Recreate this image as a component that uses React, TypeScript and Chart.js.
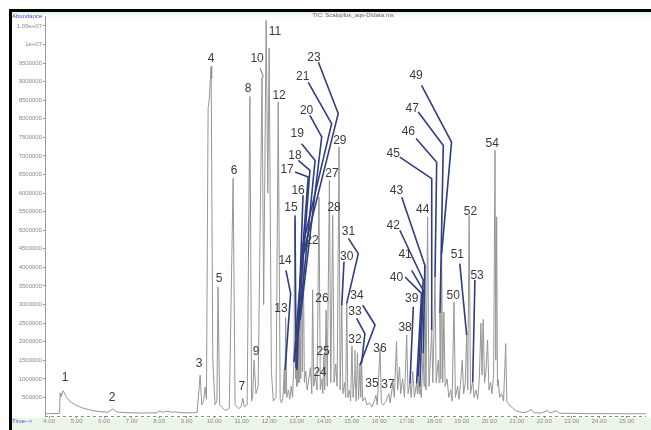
import React, { useEffect, useRef } from 'react';
import { Chart, registerables } from 'chart.js';

Chart.register(...registerables);

// ---- Data (retention time in minutes, abundance in counts) ----
const chartTitle = 'TIC: Scaloplus_aqs-D\\data.ms';
const yAxisTitle = 'Abundance';
const xAxisTitle = 'Time-->';

const yTickValues = [
  500000, 1000000, 1500000, 2000000, 2500000, 3000000, 3500000, 4000000, 4500000, 5000000, 5500000,
  6000000, 6500000, 7000000, 7500000, 8000000, 8500000, 9000000, 9500000, 10000000, 10500000,
];
const xTickValues = [4, 5, 6, 7, 8, 9, 10, 11, 12, 13, 14, 15, 16, 17, 18, 19, 20, 21, 22, 23, 24, 25];

const earlyTrace: [number, number][] = [
  [3.85, 6e4], [4.38, 7e4], [4.40, 6.2e5], [4.43, 5.2e5], [4.51, 6.8e5], [4.62, 5.2e5], [4.75, 4.0e5],
  [4.95, 3.0e5], [5.2, 2.2e5], [5.5, 1.6e5], [5.8, 1.2e5], [6.15, 1.0e5], [6.31, 1.9e5], [6.45, 1.1e5],
  [6.8, 9e4], [7.4, 8e4], [7.9, 8.5e4], [8.03, 1.4e5], [8.12, 1.0e5], [8.22, 1.15e5], [8.33, 1.3e5],
  [8.45, 1.0e5], [8.6, 1.1e5], [8.75, 9e4], [9.2, 8.5e4], [9.38, 1.0e5], [9.49, 1.1e6], [9.55, 3.0e5],
  [9.62, 4.2e5], [9.67, 7.8e5], [9.72, 4.5e5], [9.78, 8.3e6], [9.82, 8.5e6], [9.89, 9.4e6], [9.95, 1.5e6],
  [10.03, 3.0e5], [10.10, 4.0e5], [10.14, 3.47e6], [10.2, 3.0e5], [10.4, 1.5e5], [10.55, 2.0e5],
  [10.69, 6.4e6], [10.76, 3.0e5], [10.9, 2.0e5], [10.98, 2.5e5], [11.04, 4.8e5], [11.1, 2.5e5],
  [11.2, 3.0e5], [11.30, 8.6e6], [11.36, 4.0e5], [11.40, 5.0e5], [11.45, 1.5e6], [11.52, 6.0e5],
  [11.6, 8.0e5], [11.74, 9.12e6], [11.8, 3.0e6], [11.89, 1.065e7], [11.95, 6.0e6], [12.0, 9.9e6],
  [12.08, 1.2e6], [12.15, 4.0e5], [12.25, 5.0e5], [12.33, 8.45e6], [12.4, 4.5e5],
];

const middleCluster: [number, number][] = [
  [12.45, 3.5e5], [12.50, 5.0e5], [12.55, 1.25e6], [12.57, 6.0e5], [12.60, 2.65e6], [12.64, 5.0e5],
  [12.70, 7.0e5], [12.75, 4.5e5], [12.80, 8.0e5], [12.85, 5.0e5], [12.90, 1.45e6], [12.93, 5.2e6],
  [12.96, 1.0e6], [12.98, 1.75e6], [13.01, 8.0e5], [13.05, 2.2e6], [13.08, 9.0e5], [13.12, 2.6e6],
  [13.15, 1.0e6], [13.18, 4.45e6], [13.21, 1.2e6], [13.24, 4.4e6], [13.28, 9.0e5], [13.33, 1.2e6],
  [13.38, 7.0e5], [13.50, 1.3e6], [13.55, 6.0e5], [13.58, 3.4e6], [13.62, 8.0e5], [13.68, 1.1e6],
  [13.74, 7.0e5], [13.81, 5.9e6], [13.86, 7.0e5], [13.92, 1.0e6], [13.95, 6.0e5], [13.99, 1.65e6],
  [14.02, 7.0e5], [14.07, 2.85e6], [14.11, 8.0e5], [14.19, 6.34e6], [14.24, 9.0e5], [14.31, 5.4e6],
  [14.36, 9.0e5], [14.42, 1.4e6], [14.47, 8.0e5], [14.54, 7.24e6], [14.58, 7.0e5], [14.64, 3.0e6],
  [14.68, 6.0e5], [14.74, 9.0e5], [14.78, 5.0e5], [14.82, 3.05e6], [14.86, 5.0e5], [14.92, 7.0e5],
  [14.96, 4.0e5], [15.01, 1.88e6], [15.05, 5.0e5], [15.12, 1.2e6], [15.16, 4.0e5], [15.21, 1.7e6],
  [15.25, 4.5e5], [15.30, 1.4e6], [15.33, 5.0e5], [15.36, 1.45e6], [15.40, 4.0e5], [15.48, 5.0e5],
  [15.55, 3.0e5], [15.65, 3.5e5], [15.74, 2.5e5], [15.82, 4.0e5], [15.88, 5.6e5], [15.93, 3.0e5],
  [16.03, 1.8e6], [16.08, 3.5e5], [16.15, 3.0e5], [16.25, 4.0e5], [16.35, 6.0e5], [16.40, 3.5e5],
];

const lateCluster: [number, number][] = [
  [16.50, 9.0e5], [16.55, 5.0e5], [16.63, 2.0e6], [16.67, 7.0e5], [16.74, 1.32e6], [16.78, 6.0e5],
  [16.85, 1.0e6], [16.92, 5.0e5], [17.00, 2.18e6], [17.05, 6.0e5], [17.12, 9.0e5], [17.16, 5.0e5],
  [17.22, 1.2e6], [17.28, 5.0e5], [17.36, 9.0e5], [17.39, 6.0e5], [17.42, 1.06e6], [17.45, 6.0e5],
  [17.48, 8.0e5], [17.53, 5.0e5], [17.60, 1.7e6], [17.63, 8.0e5], [17.66, 4.06e6], [17.70, 7.0e5],
  [17.76, 5.36e6], [17.81, 8.0e5], [17.86, 1.5e6], [17.91, 2.3e6], [17.95, 9.0e5], [18.03, 3.74e6],
  [18.07, 9.0e5], [18.15, 1.5e6], [18.18, 9.0e5], [18.21, 2.77e6], [18.24, 1.0e6], [18.27, 4.37e6],
  [18.31, 9.0e5], [18.35, 2.8e6], [18.40, 8.0e5], [18.47, 1.0e6], [18.53, 5.0e5], [18.60, 7.0e5],
  [18.65, 4.0e5], [18.72, 3.07e6], [18.77, 5.0e5], [18.85, 8.0e5], [18.90, 4.5e5], [18.97, 1.0e6],
  [19.02, 1.5e6], [19.07, 6.0e5], [19.13, 9.0e5], [19.18, 2.2e6], [19.22, 7.0e5], [19.27, 5.4e6],
  [19.32, 6.0e5], [19.40, 9.5e5], [19.45, 5.0e5], [19.52, 7.0e5], [19.58, 4.5e5], [19.64, 1.0e6],
  [19.70, 2.5e6], [19.74, 1.1e6], [19.78, 2.6e6], [19.83, 9.0e5], [19.88, 1.2e6], [19.94, 2.05e6],
  [19.99, 7.0e5], [20.05, 9.0e5], [20.10, 6.0e5], [20.16, 1.1e6], [20.21, 7.15e6], [20.24, 1.5e6],
  [20.27, 5.36e6], [20.30, 8.0e5], [20.33, 9.8e5], [20.38, 5.0e5], [20.45, 6.0e5], [20.52, 4.0e5],
  [20.60, 1.95e6], [20.64, 4.0e5], [20.72, 3.0e5], [20.85, 2.2e5], [20.95, 1.5e5], [21.10, 1.1e5],
  [21.30, 9e4], [21.54, 1.7e5], [21.62, 9e4], [21.90, 8e4], [22.13, 1.5e5], [22.20, 8e4],
  [22.45, 1.4e5], [22.55, 7.5e4], [23.5, 6.5e4], [24.5, 6.2e4], [25.7, 6e4],
];

// peak number, label time, label abundance
const peakLabels: [string, number, number][] = [
  ['1', 4.58, 1.02e6], ['2', 6.29, 4.8e5], ['3', 9.45, 1.42e6], ['4', 9.89, 9.62e6], ['5', 10.18, 3.69e6],
  ['6', 10.72, 6.6e6], ['7', 11.01, 7.8e5], ['8', 11.23, 8.8e6], ['9', 11.52, 1.73e6], ['10', 11.56, 9.61e6],
  ['11', 12.21, 1.035e7], ['12', 12.36, 8.63e6], ['13', 12.43, 2.9e6], ['14', 12.58, 4.19e6],
  ['15', 12.79, 5.62e6], ['16', 13.05, 6.07e6], ['17', 12.65, 6.63e6], ['18', 12.94, 7.01e6],
  ['19', 13.02, 7.6e6], ['20', 13.36, 8.22e6], ['21', 13.22, 9.14e6], ['22', 13.56, 4.71e6],
  ['23', 13.63, 9.64e6], ['24', 13.85, 1.16e6], ['25', 13.96, 1.73e6], ['26', 13.92, 3.16e6],
  ['27', 14.28, 6.53e6], ['28', 14.36, 5.62e6], ['29', 14.57, 7.42e6], ['30', 14.82, 4.28e6],
  ['31', 14.88, 4.95e6], ['32', 15.12, 2.05e6], ['33', 15.12, 2.8e6], ['34', 15.19, 3.25e6],
  ['35', 15.74, 8.8e5], ['36', 16.03, 1.8e6], ['37', 16.32, 8.3e5], ['38', 16.94, 2.37e6],
  ['39', 17.18, 3.16e6], ['40', 16.63, 3.72e6], ['41', 16.94, 4.33e6], ['42', 16.51, 5.11e6],
  ['43', 16.63, 6.07e6], ['44', 17.58, 5.54e6], ['45', 16.51, 7.06e6], ['46', 17.06, 7.64e6],
  ['47', 17.2, 8.27e6], ['49', 17.34, 9.16e6], ['50', 18.69, 3.23e6], ['51', 18.84, 4.35e6],
  ['52', 19.32, 5.49e6], ['53', 19.56, 3.79e6], ['54', 20.11, 7.33e6],
];

// leader lines from label to peak: [time, abundance] vertices
const blueLeaders: [number, number][][] = [
  [[12.61, 3.92e6], [12.78, 3.3e6], [12.58, 1.24e6]],
  [[12.94, 5.4e6], [12.98, 1.29e6]],
  [[13.23, 5.94e6], [13.01, 1.24e6]],
  [[12.94, 6.57e6], [13.42, 6.43e6], [12.9, 1.45e6]],
  [[13.06, 6.88e6], [13.48, 6.61e6], [12.98, 1.72e6]],
  [[13.18, 7.33e6], [13.67, 6.88e6], [13.05, 2.18e6]],
  [[13.48, 8.09e6], [13.91, 7.51e6], [13.12, 2.58e6]],
  [[13.42, 8.98e6], [14.27, 7.87e6], [13.18, 4.46e6]],
  [[13.39, 4.6e6], [13.18, 4.28e6]],
  [[13.79, 9.52e6], [14.51, 8.14e6], [13.24, 4.37e6]],
  [[14.72, 4.15e6], [14.64, 2.98e6]],
  [[14.88, 4.78e6], [15.24, 4.37e6], [14.82, 3.03e6]],
  [[15.18, 2.63e6], [15.48, 2.22e6], [15.36, 1.42e6]],
  [[15.4, 2.98e6], [15.85, 2.45e6], [15.3, 1.37e6]],
  [[17.24, 2.94e6], [17.12, 8.8e5]],
  [[16.94, 3.74e6], [17.54, 3.3e6], [17.36, 8.8e5]],
  [[17.18, 3.92e6], [17.6, 3.39e6], [17.48, 7.9e5]],
  [[16.75, 5.0e6], [17.6, 3.66e6], [17.42, 1.06e6]],
  [[16.82, 5.89e6], [17.66, 4.06e6], [17.6, 1.69e6]],
  [[16.75, 6.97e6], [17.91, 6.39e6], [17.91, 2.31e6]],
  [[17.34, 7.47e6], [18.09, 6.83e6], [18.03, 3.74e6]],
  [[17.42, 8.18e6], [18.33, 7.28e6], [18.21, 2.77e6]],
  [[17.54, 8.9e6], [18.63, 7.37e6], [18.27, 4.37e6]],
  [[18.93, 4.1e6], [19.18, 2.18e6]],
  [[19.48, 3.66e6], [19.4, 9.2e5]],
];

const grayLeaders: [number, number][][] = [
  [[9.91, 9.43e6], [9.91, 9.08e6]],
  [[11.67, 9.37e6], [11.79, 9.12e6]],
  [[15.12, 1.77e6], [15.12, 1.18e6]],
];

const xMin = 3.85;
const xMax = 25.7;
const yMax = 10750000;

const tracePoints = [...earlyTrace, ...middleCluster, ...lateCluster].map(([x, y]) => ({ x, y }));

const annotatePlugin = {
  id: 'annotate',
  beforeDraw(chart: any) {
    const { ctx, width, height } = chart;
    ctx.save();
    ctx.fillStyle = '#ffffff';
    ctx.fillRect(0, 0, width, height);
    const g = ctx.createLinearGradient(0, 0, 0, 8);
    g.addColorStop(0, 'rgba(215,238,215,0.8)');
    g.addColorStop(1, 'rgba(255,255,255,0)');
    ctx.fillStyle = g;
    ctx.fillRect(0, 0, width, 8);
    ctx.fillStyle = 'rgba(226,242,222,0.7)';
    ctx.fillRect(0, chart.chartArea.bottom + 2, width, height - chart.chartArea.bottom - 2);
    ctx.restore();
  },
  afterDatasetsDraw(chart: any) {
    const { ctx } = chart;
    const xs = chart.scales.x;
    const ys = chart.scales.y;
    ctx.save();
    ctx.lineJoin = 'round';
    const drawPaths = (paths: [number, number][][], color: string, w: number) => {
      ctx.strokeStyle = color;
      ctx.lineWidth = w;
      for (const p of paths) {
        ctx.beginPath();
        p.forEach(([t, a], i) => {
          const px = xs.getPixelForValue(t);
          const py = ys.getPixelForValue(a);
          if (i === 0) ctx.moveTo(px, py);
          else ctx.lineTo(px, py);
        });
        ctx.stroke();
      }
    };
    drawPaths(grayLeaders, '#8a8a8a', 1.2);
    drawPaths(blueLeaders, '#2f3d82', 1.6);
    ctx.font = '12px "Liberation Sans", Arial, sans-serif';
    ctx.fillStyle = '#3a3a3a';
    ctx.textAlign = 'center';
    ctx.textBaseline = 'middle';
    for (const [txt, t, a] of peakLabels) {
      ctx.fillText(txt, xs.getPixelForValue(t), ys.getPixelForValue(a));
    }
    ctx.restore();
  },
  afterDraw(chart: any) {
    const { ctx, chartArea } = chart;
    const ys = chart.scales.y;
    ctx.save();
    ctx.strokeStyle = '#8c8c8c';
    ctx.lineWidth = 1;
    ctx.setLineDash([3, 3]);
    const y0 = Math.round(ys.getPixelForValue(0)) + 0.5;
    ctx.beginPath();
    ctx.moveTo(chartArea.left, y0);
    ctx.lineTo(chartArea.right, y0);
    ctx.stroke();
    ctx.setLineDash([]);
    ctx.font = '6px "Liberation Sans", Arial, sans-serif';
    ctx.fillStyle = '#4a4ad0';
    ctx.textAlign = 'left';
    ctx.textBaseline = 'top';
    ctx.fillText(yAxisTitle, 0, 1);
    ctx.textBaseline = 'middle';
    ctx.fillText(xAxisTitle, 0, chartArea.bottom + 5);
    ctx.fillStyle = '#666666';
    ctx.textAlign = 'center';
    ctx.fillText(chartTitle, 341, 3);
    ctx.restore();
  },
};

export default function App() {
  const canvasRef = useRef<HTMLCanvasElement | null>(null);

  useEffect(() => {
    const canvas = canvasRef.current;
    if (!canvas) return;
    const chart = new Chart(canvas, {
      type: 'line',
      data: {
        datasets: [
          {
            data: tracePoints,
            borderColor: '#969696',
            borderWidth: 1,
            pointRadius: 0,
            tension: 0,
            fill: false,
          },
        ],
      },
      options: {
        responsive: false,
        animation: false,
        events: [],
        layout: { padding: { top: 4, right: 5, left: 0, bottom: 0 } },
        plugins: { legend: { display: false }, tooltip: { enabled: false }, title: { display: false } },
        scales: {
          x: {
            type: 'linear',
            min: xMin,
            max: xMax,
            afterFit: (s: any) => { s.height = 14; },
            afterBuildTicks: (s: any) => { s.ticks = xTickValues.map((value) => ({ value })); },
            border: { display: false },
            grid: { drawOnChartArea: false, drawTicks: true, tickLength: 2, color: '#8c8c8c' },
            ticks: {
              autoSkip: false,
              maxRotation: 0,
              padding: 0,
              color: '#888888',
              font: { size: 6, family: '"Liberation Sans", Arial, sans-serif' },
              callback: (v: any) => Number(v).toFixed(2),
            },
          },
          y: {
            type: 'linear',
            min: 0,
            max: yMax,
            afterFit: (s: any) => { s.width = 33; },
            afterBuildTicks: (s: any) => { s.ticks = yTickValues.map((value) => ({ value })); },
            border: { display: true, color: '#9a9a9a', width: 1 },
            grid: { drawOnChartArea: false, drawTicks: true, tickLength: 2, color: '#9a9a9a' },
            ticks: {
              autoSkip: false,
              padding: 1,
              color: '#888888',
              font: { size: 6, family: '"Liberation Sans", Arial, sans-serif' },
              callback: (v: any) => {
                const n = Number(v);
                if (n >= 1e7) return `${+(n / 1e7).toFixed(2)}e+07`;
                return String(n);
              },
            },
          },
        },
      },
      plugins: [annotatePlugin],
    } as any);
    return () => chart.destroy();
  }, []);

  return (
    <div style={{ position: 'fixed', left: 0, top: 0, width: 651, height: 430, background: '#ffffff', overflow: 'hidden' }}>
      <div style={{ position: 'absolute', left: 9, top: 9, width: 642, height: 3, background: '#000' }} />
      <div style={{ position: 'absolute', left: 9, top: 9, width: 3, height: 421, background: '#000' }} />
      <canvas
        ref={canvasRef}
        width={639}
        height={418}
        style={{ position: 'absolute', left: 12, top: 12, width: 639, height: 418 }}
      />
    </div>
  );
}
